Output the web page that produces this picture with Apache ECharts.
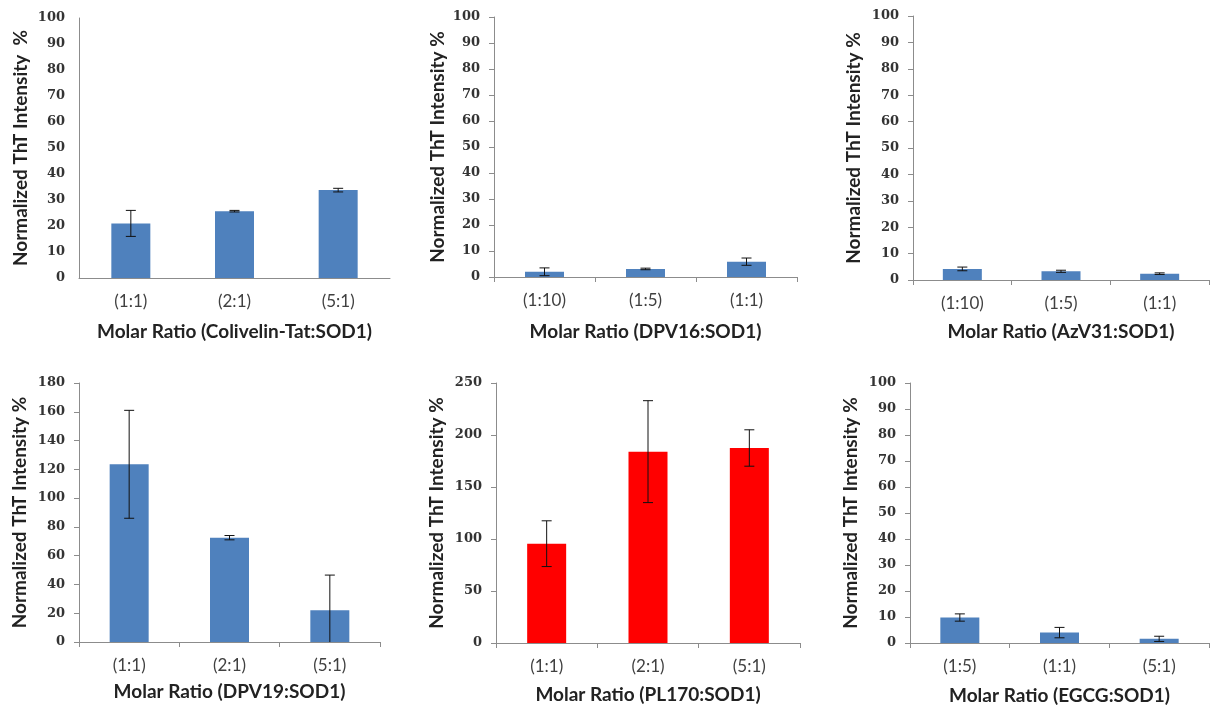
<!DOCTYPE html>
<html><head><meta charset="utf-8">
<script src="https://cdn.jsdelivr.net/npm/echarts@6/dist/echarts.min.js"></script>
<style>html,body{margin:0;padding:0;background:#fff}#c{width:1211px;height:706px}</style>
</head><body><div id="c"></div>
<script>
// ---- data ----
const cats1 = ['(1:1)', '(2:1)', '(5:1)'];
const vals1 = [21, 25.7, 33.8];
const errs1 = [5, 0.3, 0.7];

const cats2 = ['(1:10)', '(1:5)', '(1:1)'];
const vals2 = [2, 3.1, 5.9];
const errs2 = [1.5, 0.3, 1.4];

const cats3 = ['(1:10)', '(1:5)', '(1:1)'];
const vals3 = [4.2, 3.3, 2.4];
const errs3 = [0.7, 0.4, 0.3];

const cats4 = ['(1:1)', '(2:1)', '(5:1)'];
const vals4 = [123.5, 72.5, 22];
const errs4 = [37.5, 1.5, 24.5];

const cats5 = ['(1:1)', '(2:1)', '(5:1)'];
const vals5 = [95.5, 184, 187.5];
const errs5 = [22, 49, 17.5];

const cats6 = ['(1:5)', '(1:1)', '(5:1)'];
const vals6 = [9.8, 4, 1.6];
const errs6 = [1.4, 2, 1];

const xTitles = ['Molar Ratio (Colivelin-Tat:SOD1)', 'Molar Ratio (DPV16:SOD1)', 'Molar Ratio (AzV31:SOD1)',
                 'Molar Ratio (DPV19:SOD1)', 'Molar Ratio (PL170:SOD1)', 'Molar Ratio (EGCG:SOD1)'];
const yTitles = ['Normalized ThT Intensity  %', 'Normalized ThT Intensity %', 'Normalized ThT Intensity %',
                 'Normalized ThT Intensity %', 'Normalized ThT Intensity %', 'Normalized ThT Intensity %'];
const yMax = [100, 100, 100, 180, 250, 100];
const yStep = [10, 10, 10, 20, 50, 10];

// ---- layout ----
const panels = [
  {cats: cats1, vals: vals1, errs: errs1, color: '#4F81BD', grid: {left: 79, right: 821, top: 18, bottom: 428}, yGap: 49, xGap: 44.5, ticks: false},
  {cats: cats2, vals: vals2, errs: errs2, color: '#4F81BD', grid: {left: 494, right: 414, top: 17, bottom: 429}, yGap: 47, xGap: 45.5, ticks: true},
  {cats: cats3, vals: vals3, errs: errs3, color: '#4F81BD', grid: {left: 913, right: 2, top: 16, bottom: 426}, yGap: 49.5, xGap: 42.5, ticks: true},
  {cats: cats4, vals: vals4, errs: errs4, color: '#4F81BD', grid: {left: 79, right: 831, top: 383, bottom: 64}, yGap: 50, xGap: 40, ticks: true},
  {cats: cats5, vals: vals5, errs: errs5, color: '#FF0000', grid: {left: 496, right: 411, top: 383, bottom: 63}, yGap: 50, xGap: 42.5, ticks: true},
  {cats: cats6, vals: vals6, errs: errs6, color: '#4F81BD', grid: {left: 910, right: 2, top: 383, bottom: 62}, yGap: 49.5, xGap: 43, ticks: true}
];

const axisColor = '#8c8c8c';
const grids = [], xAxes = [], yAxes = [], series = [];
panels.forEach((p, i) => {
  grids.push(Object.assign({containLabel: false}, p.grid));
  xAxes.push({
    type: 'category', gridIndex: i, data: p.cats,
    name: xTitles[i], nameLocation: 'middle', nameGap: p.xGap,
    nameTextStyle: {fontFamily: 'Lato', fontWeight: 'bold', fontSize: 19, color: '#222'},
    axisLine: {lineStyle: {color: axisColor, width: 1}},
    axisTick: {show: p.ticks, alignWithLabel: false, length: 5, lineStyle: {color: axisColor}},
    axisLabel: {fontFamily: 'Lato', fontSize: 17, color: '#404040', margin: 15},
    splitLine: {show: false}
  });
  yAxes.push({
    type: 'value', gridIndex: i, min: 0, max: yMax[i], interval: yStep[i],
    name: yTitles[i], nameLocation: 'middle', nameGap: p.yGap, nameRotate: 90,
    nameTextStyle: {fontFamily: 'Lato', fontWeight: 'bold', fontSize: 19, color: '#222'},
    axisLine: {show: true, lineStyle: {color: axisColor, width: 1}},
    axisTick: {show: p.ticks, length: 5, lineStyle: {color: axisColor}},
    axisLabel: {fontFamily: 'DejaVu Serif', fontWeight: 'bold', fontSize: 13, color: '#333', margin: 14},
    splitLine: {show: false}
  });
  series.push({
    type: 'bar', xAxisIndex: i, yAxisIndex: i, data: p.vals, barWidth: 39,
    itemStyle: {color: p.color}, silent: true, animation: false
  });
  series.push({
    type: 'custom', xAxisIndex: i, yAxisIndex: i, animation: false, silent: true, z: 5,
    data: p.vals.map((v, k) => [k, v - p.errs[k], v + p.errs[k]]),
    renderItem: function (params, api) {
      const x = api.value(0);
      const lo = api.value(1), hi = api.value(2);
      const loC = Math.max(lo, 0);
      const top = api.coord([x, hi]);
      const bot = api.coord([x, loC]);
      const cap = 5;
      const st = {stroke: '#111', lineWidth: 1};
      const children = [
        {type: 'line', shape: {x1: top[0], y1: top[1], x2: bot[0], y2: bot[1]}, style: st},
        {type: 'line', shape: {x1: top[0] - cap, y1: top[1], x2: top[0] + cap, y2: top[1]}, style: st}
      ];
      if (lo >= 0) children.push({type: 'line', shape: {x1: bot[0] - cap, y1: bot[1], x2: bot[0] + cap, y2: bot[1]}, style: st});
      return {type: 'group', children: children};
    }
  });
});

const chart = echarts.init(document.getElementById('c'), null, {renderer: 'canvas'});
chart.setOption({
  backgroundColor: '#ffffff',
  animation: false,
  grid: grids, xAxis: xAxes, yAxis: yAxes, series: series
});
</script>
</body></html>
